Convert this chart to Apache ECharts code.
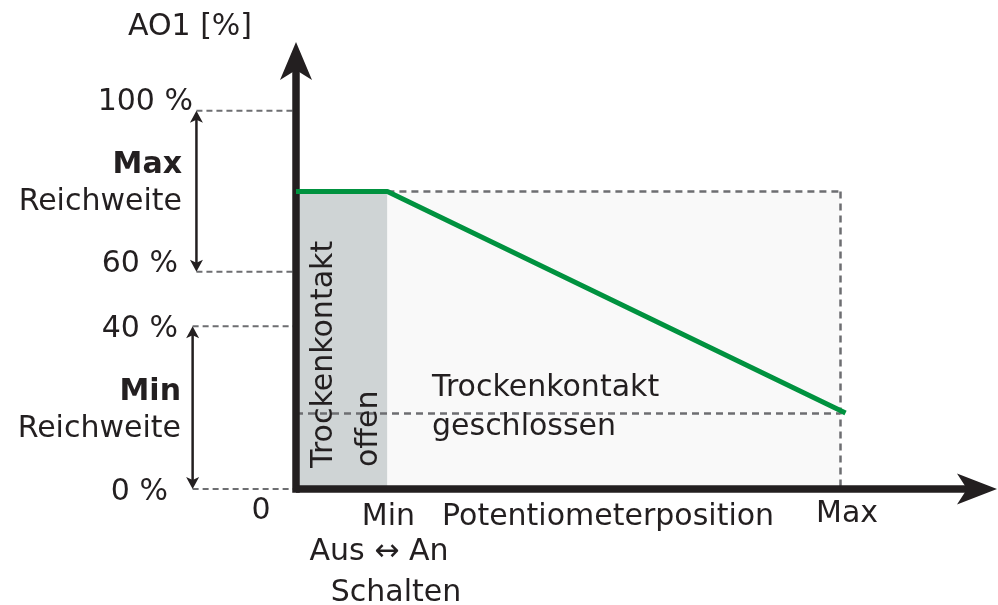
<!DOCTYPE html>
<html>
<head>
<meta charset="utf-8">
<script src="https://cdn.jsdelivr.net/npm/echarts@6/dist/echarts.min.js"></script>
<style>
  html, body { margin: 0; padding: 0; background: #fff; }
  #main { width: 998px; height: 605px; }
</style>
</head>
<body>
<div id="main"></div>
<script>
// potentiometer position: 0 .. Max (=100), schematic output scale on y
var potiX = [0, 16.8, 101];
var ao1Y = [78.6, 78.6, 20.1];
var potiMin = 16.8, potiMax = 100;
var levelTop = 78.6, levelLow = 20.1;
var levelValues = [0, 43, 57.4, 100];
var levelLabels = ['0 %', '40 %', '60 %', '100 %'];
var guideStartX = [-19, -19, -18.3, -18.3];
var maxRange = [57.4, 100];
var minRange = [0, 43];
var xEnd = 127.0, yEnd = 115.5;

var INK = '#231f20', GUIDE = '#6d6e71';
var FONT = '"DejaVu Sans", Verdana, sans-serif';

var chart = echarts.init(document.getElementById('main'));

var lineData = potiX.map(function (x, i) { return [x, ao1Y[i]]; });

// dashed guides from the scale labels to the y axis
var guideSeries = {
	type: 'custom', coordinateSystem: 'cartesian2d', clip: false, silent: true, z: 3,
	data: levelValues.map(function (v, i) { return [guideStartX[i], v]; }),
	renderItem: function (params, api) {
		var a = api.coord([api.value(0), api.value(1)]);
		var b = api.coord([0, api.value(1)]);
		return {
			type: 'line',
			shape: { x1: a[0], y1: a[1], x2: b[0], y2: b[1] },
			style: { stroke: GUIDE, lineWidth: 2, lineDash: [6, 4] }
		};
	}
};

// double arrows for the Max / Min range
var rangeSeries = {
	type: 'custom', coordinateSystem: 'cartesian2d', clip: false, silent: true, z: 4,
	data: [[-18.3, maxRange[0], maxRange[1]], [-19, minRange[0], minRange[1]]],
	renderItem: function (params, api) {
		var top = api.coord([api.value(0), api.value(2)]);
		var bot = api.coord([api.value(0), api.value(1)]);
		var x = top[0];
		return {
			type: 'group',
			children: [
				{ type: 'line', shape: { x1: x, y1: top[1] + 8, x2: x, y2: bot[1] - 8 },
					style: { stroke: INK, lineWidth: 2.5 } },
				{ type: 'polygon', shape: { points: [[x, top[1]], [x + 6.5, top[1] + 12], [x, top[1] + 9], [x - 6.5, top[1] + 12]] },
					style: { fill: INK } },
				{ type: 'polygon', shape: { points: [[x, bot[1]], [x + 6.5, bot[1] - 12], [x, bot[1] - 9], [x - 6.5, bot[1] - 12]] },
					style: { fill: INK } }
			]
		};
	}
};

// arrow heads at the ends of both axes
var axisArrowSeries = {
	type: 'custom', coordinateSystem: 'cartesian2d', clip: false, silent: true, z: 11,
	data: [[xEnd, 0], [0, yEnd]],
	renderItem: function (params, api) {
		var p = api.coord([api.value(0), api.value(1)]);
		var pts;
		if (params.dataIndex === 0) {
			var t = p[0] + 10;
			pts = [[t, p[1]], [t - 40, p[1] - 15.5], [t - 30, p[1]], [t - 40, p[1] + 15.5]];
		} else {
			var u = p[1] - 10;
			pts = [[p[0], u], [p[0] + 16, u + 38], [p[0], u + 28], [p[0] - 16, u + 38]];
		}
		return { type: 'polygon', shape: { points: pts }, style: { fill: INK } };
	}
};

var option = {
	animation: false,
	grid: { left: 296, right: 11, top: 52, bottom: 112.2 },
	xAxis: {
		type: 'value', min: 0, max: xEnd, z: 10,
		axisLine: { onZero: true, lineStyle: { color: INK, width: 7.5, cap: 'butt' } },
		axisTick: { show: false }, axisLabel: { show: false }, splitLine: { show: false }
	},
	yAxis: {
		type: 'value', min: -1, max: yEnd, z: 10,
		axisLine: { show: true, onZero: true, lineStyle: { color: INK, width: 7.5, cap: 'butt' } },
		axisTick: { show: false }, axisLabel: { show: false }, splitLine: { show: false }
	},
	series: [
		{
			type: 'line', name: 'AO1', z: 12, symbol: 'none', silent: true,
			lineStyle: { color: '#00923f', width: 5 },
			data: lineData,
			markArea: {
				silent: true,
				data: [
					[{ coord: [0, levelTop], itemStyle: { color: '#cfd4d5' } }, { coord: [potiMin, 0] }],
					[{ coord: [potiMin, levelTop], itemStyle: { color: '#f9f9f9' } }, { coord: [potiMax, 0] }]
				]
			},
			markLine: {
				silent: true, symbol: ['none', 'none'], label: { show: false },
				lineStyle: { color: GUIDE, width: 2.5, type: [7, 5] },
				data: [
					[{ coord: [potiMin, levelTop] }, { coord: [potiMax, levelTop] }],
					[{ coord: [potiMax, levelTop] }, { coord: [potiMax, 0] }],
					[{ coord: [0, levelLow] }, { coord: [potiMax, levelLow] }]
				]
			}
		},
		guideSeries,
		rangeSeries,
		axisArrowSeries
	]
};
chart.setOption(option);

// annotation texts
function px(x, y) { return chart.convertToPixel({ gridIndex: 0 }, [x, y]); }
function txt(x, y, s, align, extra) {
	var el = {
		type: 'text', x: x, y: y + 3, silent: true, z: 20,
		style: { text: s, font: '30px ' + FONT, fill: INK, align: align, verticalAlign: 'middle' }
	};
	if (extra) {
		if (extra.bold) el.style.font = 'bold 30px ' + FONT;
		if (extra.rotation) { el.rotation = extra.rotation; el.x = x + 3; el.y = y; }
	}
	return el;
}

var labelRight = [168, 178, 178, 193];
var labelShift = [0, 0, -11, -11];
var g = [];
levelValues.forEach(function (v, i) {
	g.push(txt(labelRight[i], px(0, v)[1] + labelShift[i], levelLabels[i], 'right'));
});
var pMin = px(potiMin, 0), pMax = px(potiMax, 0), p0 = px(0, 0);
g.push(txt(190, 24, 'AO1 [%]', 'center'));
g.push(txt(182, 162, 'Max', 'right', { bold: true }));
g.push(txt(182, 199, 'Reichweite', 'right'));
g.push(txt(181, 389, 'Min', 'right', { bold: true }));
g.push(txt(181, 426, 'Reichweite', 'right'));
g.push(txt(p0[0] - 35, p0[1] + 19, '0', 'center'));
g.push(txt(pMin[0] + 1, pMin[1] + 25, 'Min', 'center'));
g.push(txt(442, pMin[1] + 25, 'Potentiometerposition', 'left'));
g.push(txt(pMax[0] + 7, pMax[1] + 22, 'Max', 'center'));
g.push(txt(379, 549, 'Aus \u2194 An', 'center'));
g.push(txt(396, 590, 'Schalten', 'center'));
g.push(txt(432, 385, 'Trockenkontakt', 'left'));
g.push(txt(432, 424, 'geschlossen', 'left'));
g.push(txt(321, 468, 'Trockenkontakt', 'left', { rotation: Math.PI / 2 }));
g.push(txt(366, 467, 'offen', 'left', { rotation: Math.PI / 2 }));

chart.setOption({ graphic: g });
</script>
</body>
</html>
